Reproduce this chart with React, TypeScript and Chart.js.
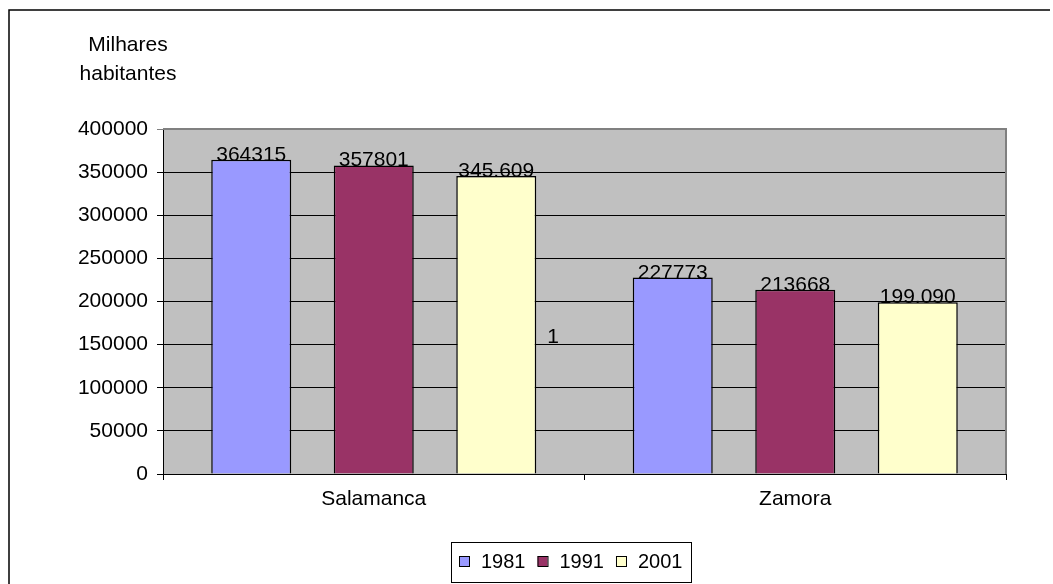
import { useEffect, useRef } from "react";
import { Chart, registerables } from "chart.js";
Chart.register(...registerables);

const categories = ["Salamanca", "Zamora"];
const seriesNames = ["1981", "1991", "2001"];
const values1981 = [364315, 227773];
const values1991 = [357801, 213668];
const values2001 = [345609, 199090];
const labels1981 = ["364315", "227773"];
const labels1991 = ["357801", "213668"];
const labels2001 = ["345.609", "199.090"];
const seriesColors = ["#9999FF", "#993366", "#FFFFCC"];
const yMin = 0;
const yMax = 400000;
const yStep = 50000;
const axisTitle = ["Milhares", "habitantes"];
const strayLabel = "1";
const strayValue = 152000;

const FONT = "'Liberation Sans', Arial, sans-serif";
const FS = 21;

export default function App() {
  const ref = useRef<HTMLCanvasElement | null>(null);
  useEffect(() => {
    if (!ref.current) return;
    const dataLabels = [labels1981, labels1991, labels2001];
    const plugin = {
      id: "excelLook",
      beforeDraw(chart: any) {
        const { ctx, chartArea: a } = chart;
        ctx.save();
        ctx.fillStyle = "#fff";
        ctx.fillRect(0, 0, chart.width, chart.height);
        ctx.fillStyle = "#C0C0C0";
        ctx.fillRect(a.left, a.top, a.right - a.left, a.bottom - a.top);
        ctx.strokeStyle = "#000";
        ctx.lineWidth = 1.5;
        ctx.beginPath();
        ctx.moveTo(9, 600);
        ctx.lineTo(9, 10);
        ctx.lineTo(1050, 10);
        ctx.stroke();
        ctx.restore();
      },
      afterDraw(chart: any) {
        const { ctx, chartArea: a } = chart;
        ctx.save();
        ctx.strokeStyle = "#808080";
        ctx.lineWidth = 2;
        ctx.beginPath();
        ctx.moveTo(a.left, a.top);
        ctx.lineTo(a.right, a.top);
        ctx.lineTo(a.right, a.bottom);
        ctx.stroke();
        ctx.fillStyle = "#000";
        ctx.font = `${FS}px ${FONT}`;
        ctx.textAlign = "center";
        ctx.textBaseline = "alphabetic";
        chart.data.datasets.forEach((ds: any, di: number) => {
          const meta = chart.getDatasetMeta(di);
          meta.data.forEach((el: any, i: number) => {
            ctx.fillText(dataLabels[di][i], el.x, el.y + 1);
          });
        });
        const m = chart.getDatasetMeta(2).data[0] as any;
        ctx.textAlign = "left";
        ctx.fillText(strayLabel, m.x + m.width / 2 + 11, chart.scales.y.getPixelForValue(strayValue));
        ctx.textAlign = "center";
        ctx.textBaseline = "middle";
        ctx.fillText(axisTitle[0], 128, 45);
        ctx.fillText(axisTitle[1], 128, 74);
        // legend
        ctx.font = `20px ${FONT}`;
        ctx.textBaseline = "middle";
        ctx.textAlign = "left";
        const ly = 561;
        let x = 459;
        chart.data.datasets.forEach((ds: any) => {
          ctx.fillStyle = ds.backgroundColor;
          ctx.fillRect(x, ly - 5, 10, 10);
          ctx.strokeStyle = "#000";
          ctx.lineWidth = 1;
          ctx.strokeRect(x + 0.5, ly - 4.5, 10, 10);
          x += 22;
          ctx.fillStyle = "#000";
          ctx.fillText(ds.label, x, ly + 1);
          x += ctx.measureText(ds.label).width + 12;
        });
        ctx.strokeStyle = "#000";
        ctx.lineWidth = 1;
        ctx.strokeRect(451.5, 542.5, 240, 40);
        ctx.restore();
      },
    };
    const chart = new Chart(ref.current, {
      type: "bar",
      data: {
        labels: categories,
        datasets: [values1981, values1991, values2001].map((v, i) => ({
          label: seriesNames[i],
          data: v,
          backgroundColor: seriesColors[i],
          borderColor: "#000",
          borderWidth: 1.5,
          categoryPercentage: 0.872,
          barPercentage: 0.653,
        })),
      },
      options: {
        animation: false,
        responsive: false,
        devicePixelRatio: 1,
        layout: { padding: { left: 0, top: 129, right: 47, bottom: 0 } },
        plugins: { legend: { display: false }, tooltip: { enabled: false } },
        scales: {
          x: {
            afterFit(s: any) {
              s.height = 110;
            },
            grid: { drawOnChartArea: false, drawTicks: true, tickLength: 6, color: "#000" },
            border: { display: true, color: "#000", width: 1 },
            ticks: { color: "#000", font: { family: FONT, size: FS }, padding: 7 },
          },
          y: {
            min: yMin,
            max: yMax,
            afterFit(s: any) {
              s.width = 163;
            },
            grid: {
              color: (c: any) => (c.tick && c.tick.value === yMax ? "#808080" : "#000"),
              tickLength: 6,
            },
            border: { display: true, color: "#000", width: 1 },
            ticks: {
              stepSize: yStep,
              color: "#000",
              font: { family: FONT, size: FS },
              padding: 9,
              callback: (v: any) => String(v),
            },
          },
        },
      },
      plugins: [plugin],
    });
    return () => chart.destroy();
  }, []);
  return (
    <div style={{ position: "fixed", left: 0, top: 0, width: 1053, height: 584 }}>
      <canvas ref={ref} width={1053} height={584} style={{ display: "block" }} />
    </div>
  );
}
